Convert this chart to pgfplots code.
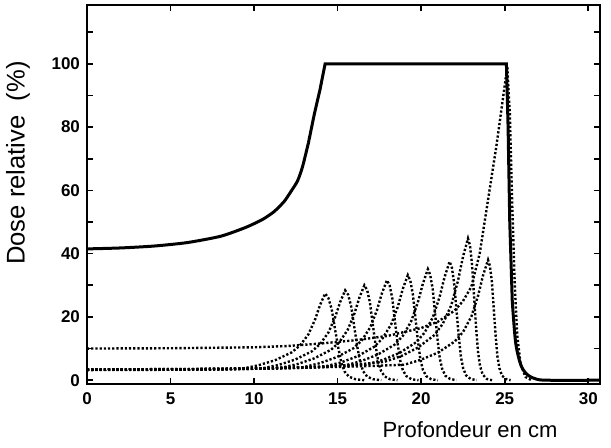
\documentclass[border=0pt]{standalone}
\usepackage{fontspec}
\setmainfont{Liberation Sans}
\usepackage{pgfplots}
\pgfplotsset{compat=1.18}
\begin{document}
\begin{tikzpicture}
\begin{axis}[
  name=ax,
  scale only axis,
  width=256.5pt, height=189.5pt,
  xmin=0, xmax=30.7, ymin=-1.2, ymax=118.6,
  xtick={0,5,...,30},
  ytick={0,10,...,110},
  yticklabels={0,,20,,40,,60,,80,,100,},
  tick align=inside,
  major tick length=3pt,
  tick style={line width=0.8pt, black},
  axis line style={line width=1pt},
  /pgf/number format/assume math mode=true,
  ticklabel style={font=\fontsize{8.5}{9}\selectfont\bfseries},
  xticklabel style={yshift=-1pt},
  clip=false,
  dotted curve/.style={black, line width=1.2pt, dash pattern=on 1.1pt off 1pt, no markers},
]
% SOBP (solid)
\addplot[black, line width=1.5pt, no markers, smooth, tension=0.4] coordinates {
(0,41.5)(2,41.8)(4,42.4)(6,43.5)(8,45.5)(9.5,48.3)(10.5,50.8)(11.2,53.3)(11.8,56.5)(12.2,59.6)(12.6,63)(12.9,67.5)(13.25,75)};
\addplot[black, line width=1.5pt, no markers] coordinates {
(13.25,75)(13.6,84)(13.95,92)(14.25,100)(20,100)(25.1,100)(25.2,80)(25.3,50)(25.45,25)};
\addplot[black, line width=1.5pt, no markers, smooth, tension=0.5] coordinates {
(25.45,25)(25.65,12)(25.95,5)(26.3,2)(26.8,0.5)(27.5,0)(30.7,0)};
% distal-most peak
\addplot[dotted curve] coordinates {
(0,10)(5,10.1)(10,10.4)(12,10.8)(14,11.6)(16,12.6)(18,14)(20,16.5)(21,18.5)(22,22)(22.5,25)(23,29.5)(23.5,40)(24,57)(24.5,74)(25.15,99)(25.3,85)(25.45,55)(25.6,30)(25.75,14)(25.95,5)(26.25,1)(26.6,0)};
% peak 1
\addplot[dotted curve] coordinates {
(0,3.3)(5,3.4)(9.25,3.6)(10.25,4.7)(11.25,6.3)(12.25,8.8)(12.75,11.0)(13.25,14.5)(13.65,19.2)(13.95,23.8)(14.25,27.4)(14.445,26.0)(14.64,22.5)(14.835,16.4)(15.03,10.4)(15.225,5.5)(15.42,2.7)(15.68,1.1)(16.07,0.3)(16.59,0)};
% peak 2
\addplot[dotted curve] coordinates {
(0,3.2)(5,3.3)(8,3.4)(10.45,3.7)(11.45,4.8)(12.45,6.5)(13.45,9.1)(13.95,11.4)(14.45,15.1)(14.85,19.9)(15.15,24.7)(15.45,28.4)(15.63,27.0)(15.81,23.3)(15.99,17.0)(16.17,10.8)(16.35,5.7)(16.53,2.8)(16.77,1.1)(17.13,0.3)(17.61,0)};
% peak 3
\addplot[dotted curve] coordinates {
(0,3.3)(5,3.4)(9,3.6)(11.6,3.9)(12.6,5.1)(13.6,6.9)(14.6,9.6)(15.1,12.0)(15.6,15.9)(16.0,21.0)(16.3,26.1)(16.6,30.0)(16.765,28.5)(16.93,24.6)(17.095,18.0)(17.26,11.4)(17.425,6.0)(17.59,3.0)(17.81,1.2)(18.14,0.3)(18.58,0)};
% peak 4
\addplot[dotted curve] coordinates {
(0,3.3)(5,3.4)(8,3.5)(10.95,3.8)(12.95,4.1)(13.95,5.4)(14.95,7.3)(15.95,10.1)(16.45,12.6)(16.95,16.7)(17.35,22.1)(17.65,27.5)(17.95,31.6)(18.11,30.0)(18.27,25.9)(18.42,19.0)(18.58,12.0)(18.74,6.3)(18.90,3.2)(19.11,1.3)(19.42,0.3)(19.84,0)};
% peak 5
\addplot[dotted curve] coordinates {
(0,3.3)(5,3.4)(8,3.5)(10.2,3.7)(12.2,4.0)(14.2,4.3)(15.2,5.6)(16.2,7.6)(17.2,10.6)(17.7,13.3)(18.2,17.6)(18.6,23.2)(18.9,28.9)(19.2,33.2)(19.35,31.5)(19.5,27.2)(19.65,19.9)(19.8,12.6)(19.95,6.6)(20.1,3.3)(20.3,1.3)(20.6,0.3)(21.0,0)};
% peak 6
\addplot[dotted curve] coordinates {
(0,3.3)(5,3.4)(8,3.5)(11.4,3.7)(13.4,4.0)(15.4,4.6)(16.4,6.0)(17.4,8.1)(18.4,11.2)(18.9,14.0)(19.4,18.6)(19.8,24.6)(20.1,30.5)(20.4,35.1)(20.54,33.3)(20.69,28.8)(20.83,21.1)(20.97,13.3)(21.11,7.0)(21.26,3.5)(21.45,1.4)(21.73,0.4)(22.11,0)};
% peak 7
\addplot[dotted curve] coordinates {
(0,3.3)(5,3.4)(8,3.5)(10,3.6)(12.7,3.9)(14.7,4.3)(16.7,4.9)(17.7,6.4)(18.7,8.6)(19.7,12.0)(20.2,15.0)(20.7,19.9)(21.1,26.3)(21.4,32.6)(21.7,37.5)(21.835,35.6)(21.97,30.8)(22.105,22.5)(22.24,14.3)(22.375,7.5)(22.51,3.8)(22.69,1.5)(22.96,0.4)(23.32,0)};
% peak 8
\addplot[dotted curve] coordinates {
(0,3.4)(5,3.5)(8,3.6)(10,3.7)(13.8,4.2)(15.8,4.8)(17.8,5.8)(18.8,7.6)(19.8,10.3)(20.8,14.3)(21.3,17.9)(21.8,23.7)(22.2,31.4)(22.5,39.0)(22.8,44.8)(22.92,42.6)(23.04,36.7)(23.16,26.9)(23.28,17.0)(23.4,9.0)(23.52,4.5)(23.68,1.8)(23.92,0.4)(24.24,0)};
% peak 9
\addplot[dotted curve] coordinates {
(0,3.4)(5,3.5)(8,3.6)(10,3.7)(15,4.2)(17,4.5)(19,4.9)(20,6.5)(21,8.7)(22,12.2)(22.5,15.2)(23,20.1)(23.4,26.6)(23.7,33.1)(24.0,38.0)(24.11,36.1)(24.23,31.2)(24.34,22.8)(24.45,14.4)(24.56,7.6)(24.68,3.8)(24.83,1.5)(25.05,0.4)(25.35,0)};
% axis labels
\node[rotate=90, font=\fontsize{12.8}{14}\selectfont] at (rel axis cs:-0.1345,0.583) {Dose relative\ \ (\%)};
\node[font=\fontsize{11}{13}\selectfont] at (rel axis cs:0.7466,-0.1214) {Profondeur en cm};
\end{axis}
\pgfresetboundingbox
\path ([xshift=-43.5pt,yshift=-32pt]ax.south west) rectangle ([xshift=5.5pt,yshift=2.5pt]ax.north east);
\end{tikzpicture}
\end{document}
